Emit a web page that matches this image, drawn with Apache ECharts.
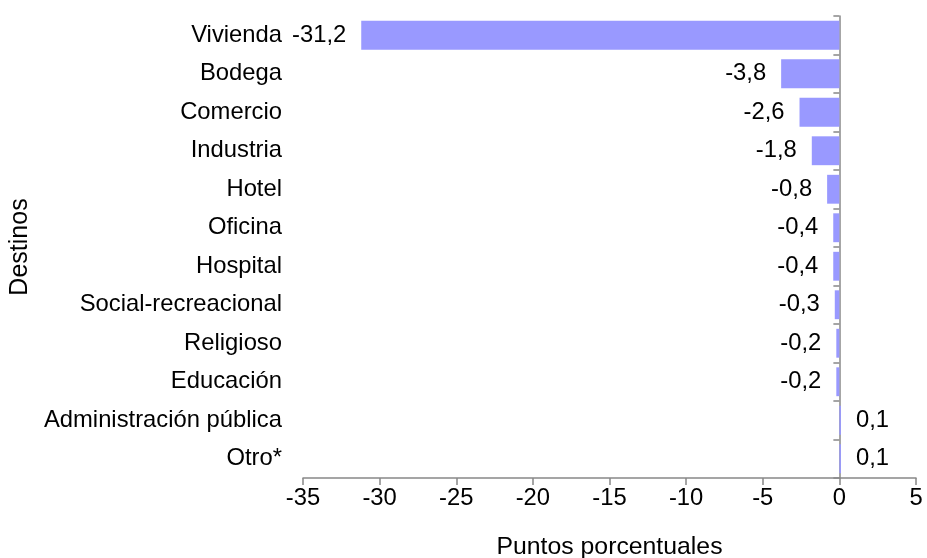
<!DOCTYPE html>
<html>
<head>
<meta charset="utf-8">
<script src="https://cdn.jsdelivr.net/npm/echarts@6/dist/echarts.min.js"></script>
<style>html,body{margin:0;padding:0;background:#fff}#c{width:927px;height:558px}</style>
</head>
<body>
<div id="c"></div>
<script>
var categories = ['Vivienda','Bodega','Comercio','Industria','Hotel','Oficina','Hospital','Social-recreacional','Religioso','Educación','Administración pública','Otro*'];
var values = [-31.2,-3.8,-2.6,-1.8,-0.8,-0.4,-0.4,-0.3,-0.2,-0.2,0.1,0.1];
var xTicks = {min:-35, max:5, interval:5};
var xName = 'Puntos porcentuales';
var yName = 'Destinos';

var font = '"Liberation Sans", Arial, sans-serif';
var fs = 23.8;
var chart = echarts.init(document.getElementById('c'), null, {renderer:'canvas'});
var barData = values.map(function(v){
  return {value:v, label:{position: v<0 ? 'left' : 'right'}};
});
chart.setOption({
  animation:false,
  backgroundColor:'#fff',
  grid:{left:303, right:11, top:16, bottom:80, containLabel:false, outerBoundsMode:'none'},
  xAxis:{
    type:'value', min:xTicks.min, max:xTicks.max, interval:xTicks.interval,
    name:xName, nameLocation:'middle', nameGap:57,
    nameTextStyle:{color:'#000', fontSize:24.8, fontFamily:font},
    axisLine:{show:true, lineStyle:{color:'#888', width:1.5}},
    axisTick:{show:true, length:7, lineStyle:{color:'#888', width:1.5}},
    axisLabel:{color:'#000', fontSize:fs, fontFamily:font, margin:8},
    splitLine:{show:false}
  },
  yAxis:[{
    type:'category', data:categories, inverse:true, position:'left',
    name:yName, nameLocation:'middle', nameGap:266, nameRotate:90,
    nameTextStyle:{color:'#000', fontSize:25, fontFamily:font},
    axisLine:{show:false, onZero:false},
    axisTick:{show:false},
    axisLabel:{color:'#000', fontSize:fs, fontFamily:font, margin:21},
    splitLine:{show:false}
  },{
    type:'category', data:categories, inverse:true, position:'left',
    axisLine:{show:true, onZero:true, lineStyle:{color:'#888', width:1.5}},
    axisTick:{show:true, length:6, lineStyle:{color:'#888', width:1.5}},
    axisLabel:{show:false},
    splitLine:{show:false}
  }],
  series:[{
    type:'bar', yAxisIndex:0, data:barData, barCategoryGap:'25%',
    itemStyle:{color:'#9999FF'},
    label:{show:true, distance:15, color:'#000', fontSize:fs, fontFamily:font,
      formatter:function(p){return String(p.value).replace('.',',');}
    }
  }]
});
</script>
</body>
</html>
